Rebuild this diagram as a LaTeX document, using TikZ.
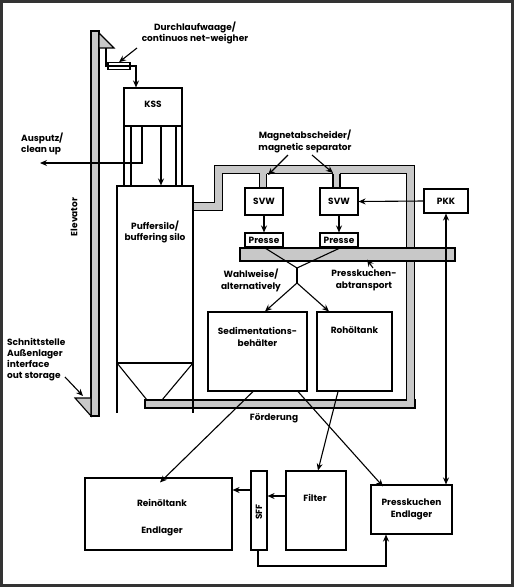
\documentclass[tikz,border=0pt]{standalone}
\usepackage{fontspec}
\setmainfont{Poppins}
\usetikzlibrary{arrows.meta,calc}
\definecolor{pipegray}{RGB}{200,200,200}
\newcommand{\lblfont}{\bfseries\fontsize{9}{10.5}\selectfont}
\tikzset{
  lbl/.style={font=\lblfont, inner sep=0pt, text=black},
  box/.style={draw, line width=1.1pt, fill=white, inner sep=0pt, font=\lblfont},
  pipe/.style={draw, line width=1.1pt, fill=pipegray},
  ln/.style={line width=1.1pt},
  arr/.style={line width=1.1pt, -{Stealth[length=7pt,width=6pt]}},
  darr/.style={line width=1.1pt, {Stealth[length=7pt,width=6pt]}-{Stealth[length=7pt,width=6pt]}},
}
\begin{document}
\begin{tikzpicture}[x=1pt,y=-1pt]
\useasboundingbox (0,0) rectangle (514,587);
\fill[white] (0,0) rectangle (514,587);
\draw[line width=2.5pt, black!80] (1.5,1.5) rectangle (512.5,585.5);

% elevator
\draw[pipe] (91,31) rectangle (99,416);
\draw[pipe] (99,33) -- (114,48) -- (99,48) -- cycle;
\draw[pipe] (75,398) -- (91,398) -- (91,416) -- cycle;
\node[lbl, rotate=90] (elev) at (74,217) {Elevator};

% weigher
\node[box, minimum width=22pt, minimum height=6.5pt] (wg) at (119,66) {};
\draw[ln] (108.5,66) -- (129.5,66);
\coordinate (trib) at (106,48);
\draw[ln] (trib) -- (106,66) -- (wg.west);
\node[lbl, align=center] (durch) at (195,33) {Durchlaufwaage/\\[1pt]continuos net-weigher};
\draw[arr] (137,48) -- (wg.north);

% KSS
\node[box, minimum width=58pt, minimum height=38pt] (kss) at (153,107) {};
\node[lbl] (kssl) at (153,104) {KSS};
\draw[arr] (wg.east) -- (136,66) -- (kss.north -| 136,0);

% silo
\node[box, minimum width=76pt, minimum height=177pt] (silo) at (155,274.5) {};
\node[lbl, align=center] (silol) at (155,232) {Puffersilo/\\[1pt]buffering silo};
\foreach \xx in {124,131,176,182} \draw[ln] (\xx,126) -- (\xx,186);
\draw[arr] (kss.south -| 161,0) -- (silo.north -| 161,0);
\coordinate (aus) at (40,163);
\draw[arr] (kss.south -| 142,0) -- (142,163) -- (aus);
\node[lbl, align=left, anchor=west] (ausl) at (21,144) {Ausputz/\\[1pt]clean up};

% conveyor bar
\draw[pipe] (145,400) rectangle (415,408);
\node[lbl] (foer) at (274,418) {Förderung};
% silo legs and cone
\draw[ln] (117,363) -- (117,413);
\draw[ln] (193,363) -- (193,413);
\draw[ln] (117,363) -- (147,400);
\draw[ln] (193,363) -- (162,400);

% Schnittstelle
\node[lbl, align=left, anchor=north west] (schn) at (7,338) {Schnittstelle\\[0.5pt]Außenlager\\[0.5pt]interface\\[0.5pt]out storage};
\draw[arr] (65,377) -- (83,396);

% pipe from silo
\draw[line width=8.5pt, black, line join=miter] (193,206.5) -- (218.5,206.5) -- (218.5,169.5) -- (410.5,169.5) -- (410.5,400.5);
\draw[line width=6.3pt, pipegray, line join=miter] (192,206.5) -- (218.5,206.5) -- (218.5,169.5) -- (410.5,169.5) -- (410.5,401.5);
\draw[ln] (193,202) -- (193,211);
% stubs
\fill[pipegray] (259.5,172) rectangle (266.5,188);
\draw[ln] (259.5,173.5) -- (259.5,188) (266.5,173.5) -- (266.5,188);
\fill[pipegray] (333,172) rectangle (340,188);
\draw[ln] (333,173.5) -- (333,188) (340,173.5) -- (340,188);

% SVW, PKK
\node[box, minimum width=38pt, minimum height=27pt] (svw1) at (264,201.5) {SVW};
\node[box, minimum width=38pt, minimum height=27pt] (svw2) at (339,201.5) {SVW};
\node[box, minimum width=44pt, minimum height=24pt] (pkk) at (446,201) {PKK};
\draw[arr] (pkk.west) -- (svw2.east);

\node[lbl, align=center] (magn) at (305,141.5) {Magnetabscheider/\\[1pt]magnetic separator};
\draw[arr] (288,155) -- (268,175);
\draw[arr] (312,155) -- (333,173);

% Presse
\node[box, minimum width=38pt, minimum height=14pt] (pr1) at (264,240) {Presse};
\node[box, minimum width=38pt, minimum height=14pt] (pr2) at (339,240) {Presse};
\draw[arr] (svw1.south) -- (pr1.north);
\draw[arr] (svw2.south) -- (pr2.north);
\draw[pipe] (240,248) rectangle (455,261);

% X lines
\coordinate (xm) at (297,268);
\coordinate (xb) at (297,283);
\draw[ln] (265,248) -- (xm) -- (340,248);
\draw[ln] (xm) -- (xb);

\node[lbl, align=center] (wahl) at (251,280.5) {Wahlweise/\\[1pt]alternatively};
\node[lbl, align=center] (pkab) at (364,280.5) {Presskuchen-\\[1pt]abtransport};
\draw[arr] (373,268) -- (367,259.5);

% Sedimentation, Rohoeltank
\node[box, minimum width=99pt, minimum height=79pt] (sed) at (257.5,351.5) {};
\node[lbl, align=center] (sedl) at (257.5,337) {Sedimentations-\\[1pt]behälter};
\node[box, minimum width=75pt, minimum height=79pt] (roh) at (354.5,351.5) {};
\node[lbl] (rohl) at (354.5,330) {Rohöltank};
\draw[arr] (xb) -- ([xshift=7.5pt]sed.north);
\draw[arr] (xb) -- ([xshift=-25.5pt]roh.north);

% bottom boxes
\node[box, minimum width=147pt, minimum height=72pt] (rein) at (158.5,514) {};
\node[lbl] (reinl1) at (162,503) {Reinöltank};
\node[lbl] (reinl2) at (162,531) {Endlager};
\node[box, minimum width=16pt, minimum height=79pt] (sff) at (259,510.5) {};
\node[lbl, rotate=90] (sffl) at (259,512) {SFF};
\node[box, minimum width=60pt, minimum height=79pt] (filt) at (316,510.5) {};
\node[lbl] (filtl) at (315,498) {Filter};
\node[box, minimum width=81pt, minimum height=49pt, align=center] (pe) at (411.5,509.5) {Presskuchen\\[1pt]Endlager};

% connectors to bottom
\draw[arr] ([xshift=-4.5pt]sed.south) -- ([xshift=1.5pt,yshift=-5pt]rein.north);
\draw[arr] ([xshift=40.5pt]sed.south) -- ([xshift=-28.5pt,yshift=-2pt]pe.north);
\draw[arr] ([xshift=-16.5pt]roh.south) -- ([xshift=2pt]filt.north);
\draw[darr] (pkk.south) -- (pe.north -| pkk.south);
\draw[arr] (filt.west |- 0,496) -- (sff.east |- 0,496);
\draw[arr] (sff.west |- 0,490) -- (rein.east |- 0,490);
\draw[arr] (sff.south -| 258,0) -- (258,566) -- (386,566) -- (pe.south -| 386,0);
\end{tikzpicture}
\end{document}
